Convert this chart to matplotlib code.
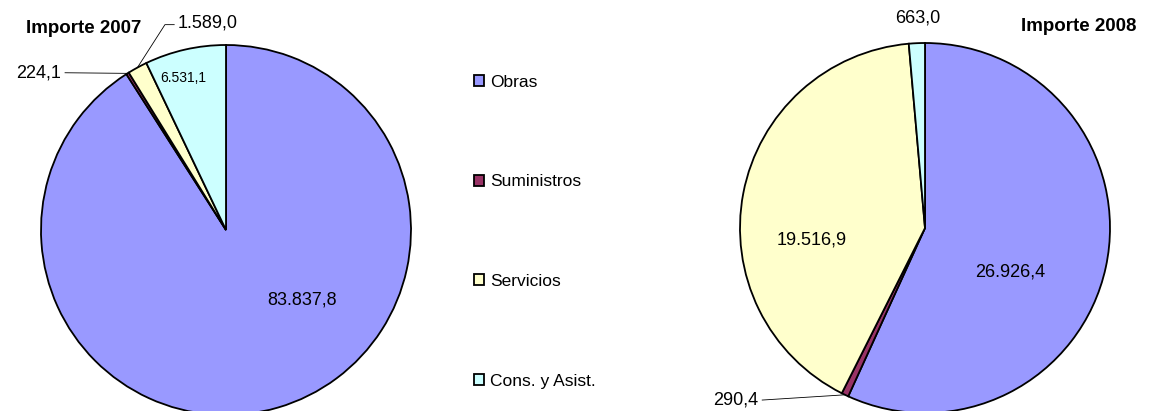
import matplotlib.pyplot as plt
import numpy as np
from matplotlib.patches import Patch

plt.rcParams['font.family'] = ['Liberation Sans', 'DejaVu Sans']

categories = ['Obras', 'Suministros', 'Servicios', 'Cons. y Asist.']
colors = ['#9999FF', '#993366', '#FFFFCC', '#CCFFFF']
importe_2007 = [83837.8, 224.1, 1589.0, 6531.1]
importe_2008 = [26926.4, 290.4, 19516.9, 663.0]
labels_2007 = ['83.837,8', '224,1', '1.589,0', '6.531,1']
labels_2008 = ['26.926,4', '290,4', '19.516,9', '663,0']

W, H = 1154, 411
R = 185  # pie radius in pixels
fig = plt.figure(figsize=(W / 100, H / 100), dpi=100)
FS = 13


def pie_axes(cx, cy):
    # axes of 2R x 2R pixels centred on (cx, cy), top-left origin
    ax = fig.add_axes([(cx - R) / W, (H - cy - R) / H, 2 * R / W, 2 * R / H])
    ax.set_axis_off()
    return ax


def edge_point(wedge):
    a = np.deg2rad((wedge.theta1 + wedge.theta2) / 2)
    return np.cos(a), np.sin(a)


ax1 = pie_axes(226, 230)
w1, _ = ax1.pie(importe_2007, colors=colors, startangle=90, counterclock=False,
                radius=1, wedgeprops=dict(edgecolor='black', linewidth=1.3))
ax1.set_xlim(-1, 1)
ax1.set_ylim(-1, 1)
ax1.text(0.41, -0.38, labels_2007[0], ha='center', va='center', fontsize=FS)
ax1.text(-0.23, 0.82, labels_2007[3], ha='center', va='center', fontsize=10)
# leader lines
x, y = edge_point(w1[1])
ax1.plot([x, -0.87], [y, 0.85], color='black', lw=0.6, clip_on=False)
ax1.text(-0.89, 0.85, labels_2007[1], ha='right', va='center', fontsize=FS)
x, y = edge_point(w1[2])
ax1.plot([x, -0.33, -0.28], [y, 1.11, 1.11], color='black', lw=0.6, clip_on=False)
ax1.text(-0.26, 1.12, labels_2007[2], ha='left', va='center', fontsize=FS)
ax1.text(-0.77, 1.09, 'Importe 2007', ha='center', va='center',
         fontsize=13.5, fontweight='bold')

ax2 = pie_axes(925, 228)
w2, _ = ax2.pie(importe_2008, colors=colors, startangle=90, counterclock=False,
                radius=1, wedgeprops=dict(edgecolor='black', linewidth=1.3))
ax2.set_xlim(-1, 1)
ax2.set_ylim(-1, 1)
ax2.text(0.46, -0.24, labels_2008[0], ha='center', va='center', fontsize=FS)
ax2.text(-0.61, -0.065, labels_2008[2], ha='center', va='center', fontsize=FS)
ax2.text(-0.04, 1.135, labels_2008[3], ha='center', va='center', fontsize=FS)
x, y = edge_point(w2[1])
ax2.plot([x, -0.88], [y, -0.93], color='black', lw=0.6, clip_on=False)
ax2.text(-0.9, -0.93, labels_2008[1], ha='right', va='center', fontsize=FS)
ax2.text(0.83, 1.09, 'Importe 2008', ha='center', va='center',
         fontsize=13.5, fontweight='bold')

handles = [Patch(facecolor=c, edgecolor='black', linewidth=1.3) for c in colors]
fig.legend(handles, categories, loc='upper left', bbox_to_anchor=(458 / W, 1 - 59 / H),
           frameon=False, fontsize=12.5, labelspacing=4.88, handlelength=0.6,
           handleheight=0.6, handletextpad=0.35)

fig.savefig('out.png', dpi=100)
